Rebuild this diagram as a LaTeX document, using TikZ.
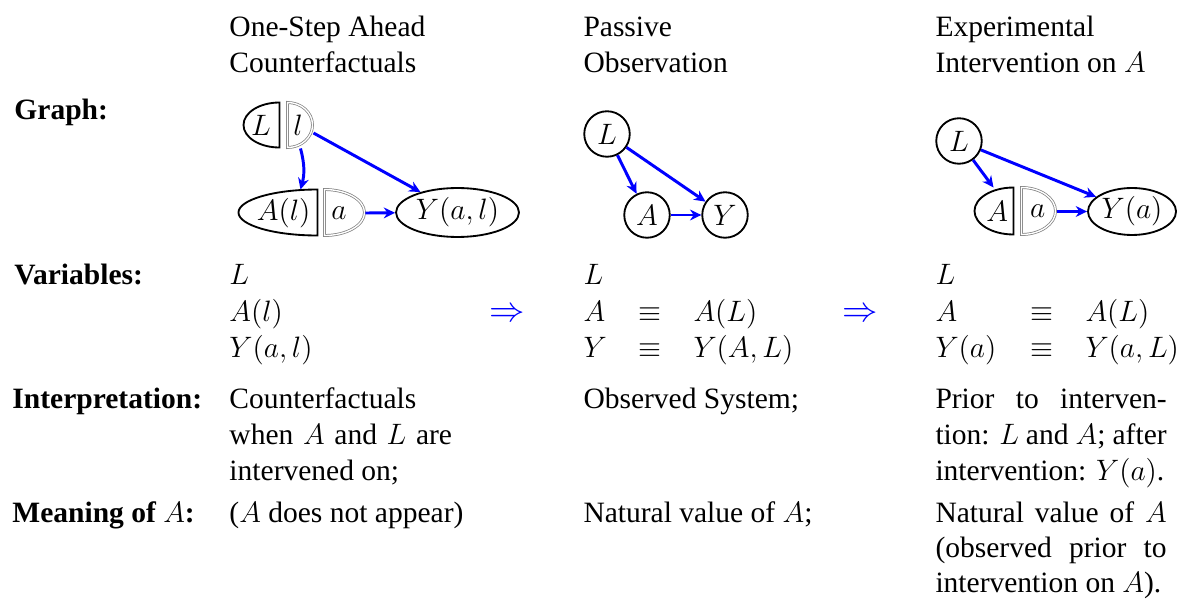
\documentclass[tikz,border=0pt]{standalone}
\usepackage[no-math]{fontspec}
\setmainfont{Liberation Serif}
\usetikzlibrary{arrows.meta,shapes.geometric,calc}
\tikzset{
  every node/.style={font=\fontsize{12}{14.5}\selectfont},
  halfnode/.style={draw=none, inner sep=0pt, rectangle},
  outl/.style={line width=0.75pt},
  dbl/.style={draw=gray, double=white, line width=0.3pt, double distance=0.55pt},
  circ/.style={circle, draw, line width=0.75pt, inner sep=0pt, minimum size=18.5pt},
  ell/.style={ellipse, draw, line width=0.75pt, inner sep=0pt},
  arr/.style={-{Stealth[length=4.6pt,width=4.4pt]}, draw=blue, line width=1.2pt},
  txt/.style={anchor=base west, inner sep=0pt},
  lbl/.style={anchor=base west, inner sep=0pt, font=\fontsize{12}{14.5}\selectfont\bfseries},
  impl/.style={anchor=base, inner sep=0pt, text=blue, font=\fontsize{14.4}{17}\selectfont},
}
\newcommand{\jline}[2]{\makebox[#1][s]{#2}}
\begin{document}
\begin{tikzpicture}[x=0.40662pt,y=0.40662pt]
\useasboundingbox (0,0) rectangle (1178,-599);

% ---------- headers ----------
\node[txt] (h1a) at (229,-37) {One-Step Ahead};
\node[txt] (h1b) at (229,-72.5) {Counterfactuals};
\node[txt] (h2a) at (583,-37) {Passive};
\node[txt] (h2b) at (583,-72.5) {Observation};
\node[txt] (h3a) at (935,-37) {Experimental};
\node[txt] (h3b) at (935,-72.5) {Intervention on $A$};

% ---------- row labels ----------
\node[lbl] (rg) at (14,-120) {Graph:};
\node[lbl] (rv) at (14,-285) {Variables:};
\node[lbl] (ri) at (12,-408) {Interpretation:};
\node[lbl] (rm) at (12,-522) {Meaning of $A$:};

% ---------- graph 1 ----------
\node[halfnode, minimum width=14.64pt, minimum height=18.3pt] (L1) at (261,-125.5) {$L$};
\node[halfnode, minimum width=10.17pt, minimum height=18.3pt] (l1) at (300.5,-125.5) {$l$\hspace*{2pt}};
\node[halfnode, minimum width=32.12pt, minimum height=18.7pt] (A1) at (277.5,-213) {\hspace*{5pt}$A(l)$};
\node[halfnode, minimum width=16.26pt, minimum height=18.7pt] (a1) at (345,-213) {$a$\hspace*{5pt}};
\node[ell, minimum width=50pt, minimum height=19.9pt] (Y1) at (457.5,-212.5) {$Y(a,l)$};
\draw[outl] (L1.north east) arc[start angle=90,end angle=270,x radius=14.64pt,y radius=9.15pt] -- cycle;
\draw[dbl] (l1.north west) arc[start angle=90,end angle=-90,x radius=10.17pt,y radius=9.15pt] -- cycle;
\draw[outl] (A1.north east) arc[start angle=90,end angle=270,x radius=32.12pt,y radius=9.35pt] -- cycle;
\draw[dbl] (a1.north west) arc[start angle=90,end angle=-90,x radius=16.26pt,y radius=9.35pt] -- cycle;
\draw[arr] (l1.south) to[out=-75,in=75] (l1.south |- A1.north);
\draw[arr] (l1.-30) -- (Y1);
\draw[arr] (a1.east) -- (Y1);

% ---------- graph 2 ----------
\node[circ] (L2) at (607,-134) {$L$};
\node[circ] (A2) at (647,-215) {$A$};
\node[circ] (Y2) at (725,-215) {$Y$};
\draw[arr] (L2) -- (A2);
\draw[arr] (L2) -- (Y2);
\draw[arr] (A2) -- (Y2);

% ---------- graph 3 ----------
\node[circ] (L3) at (959,-141) {$L$};
\node[halfnode, minimum width=15.86pt, minimum height=19.1pt] (A3) at (993.5,-211.5) {\hspace*{3pt}$A$};
\node[halfnode, minimum width=13.83pt, minimum height=19.1pt] (a3) at (1039,-211.5) {$a$\hspace*{1pt}};
\node[ell, minimum width=35.8pt, minimum height=19.1pt] (Y3) at (1132,-211.5) {$Y(a)$};
\draw[outl] (A3.north east) arc[start angle=90,end angle=270,x radius=15.86pt,y radius=9.55pt] -- cycle;
\draw[dbl] (a3.north west) arc[start angle=90,end angle=-90,x radius=13.83pt,y radius=9.55pt] -- cycle;
\draw[arr] (L3) -- (A3.north);
\draw[arr] (L3) -- (Y3);
\draw[arr] (a3.east) -- (Y3);

% ---------- variables ----------
\node[txt] (v1a) at (229,-285) {$L$};
\node[txt] (v1b) at (229,-321) {$A(l)$};
\node[txt] (v1c) at (229,-357) {$Y(a,l)$};
\node[impl] (im1) at (507.5,-321) {$\Rightarrow$};
\node[txt] (v2a) at (583,-285) {$L$};
\node[txt] (v2b) at (583,-321) {$A$};
\node[txt] (v2be) at (638,-321) {$\equiv$};
\node[txt] (v2br) at (693,-321) {$A(L)$};
\node[txt] (v2c) at (583,-357) {$Y$};
\node[txt] (v2ce) at (638,-357) {$\equiv$};
\node[txt] (v2cr) at (693,-357) {$Y(A,L)$};
\node[impl] (im2) at (860,-321) {$\Rightarrow$};
\node[txt] (v3a) at (935,-285) {$L$};
\node[txt] (v3b) at (935,-321) {$A$};
\node[txt] (v3be) at (1030,-321) {$\equiv$};
\node[txt] (v3br) at (1085,-321) {$A(L)$};
\node[txt] (v3c) at (935,-357) {$Y(a)$};
\node[txt] (v3ce) at (1030,-357) {$\equiv$};
\node[txt] (v3cr) at (1085,-357) {$Y(a,L)$};

% ---------- interpretation ----------
\node[txt] (i1a) at (229,-408) {Counterfactuals};
\node[txt] (i1b) at (229,-444) {\jline{90.5pt}{when $A$ and $L$ are}};
\node[txt] (i1c) at (229,-480) {intervened on;};
\node[txt] (i2) at (583,-408) {Observed System;};
\node[txt] (i3a) at (935,-408) {\jline{94pt}{Prior to interven-}};
\node[txt] (i3b) at (935,-444) {\jline{94pt}{tion: $L$ and $A$; after}};
\node[txt] (i3c) at (935,-480) {intervention: $Y(a)$.};

% ---------- meaning ----------
\node[txt] (m1) at (229,-522) {($A$ does not appear)};
\node[txt] (m2) at (583,-522) {Natural value of $A$;};
\node[txt] (m3a) at (935,-522) {\jline{94pt}{Natural value of $A$}};
\node[txt] (m3b) at (935,-557) {\jline{94pt}{(observed prior to}};
\node[txt] (m3c) at (935,-592) {intervention on $A$).};
\end{tikzpicture}
\end{document}
